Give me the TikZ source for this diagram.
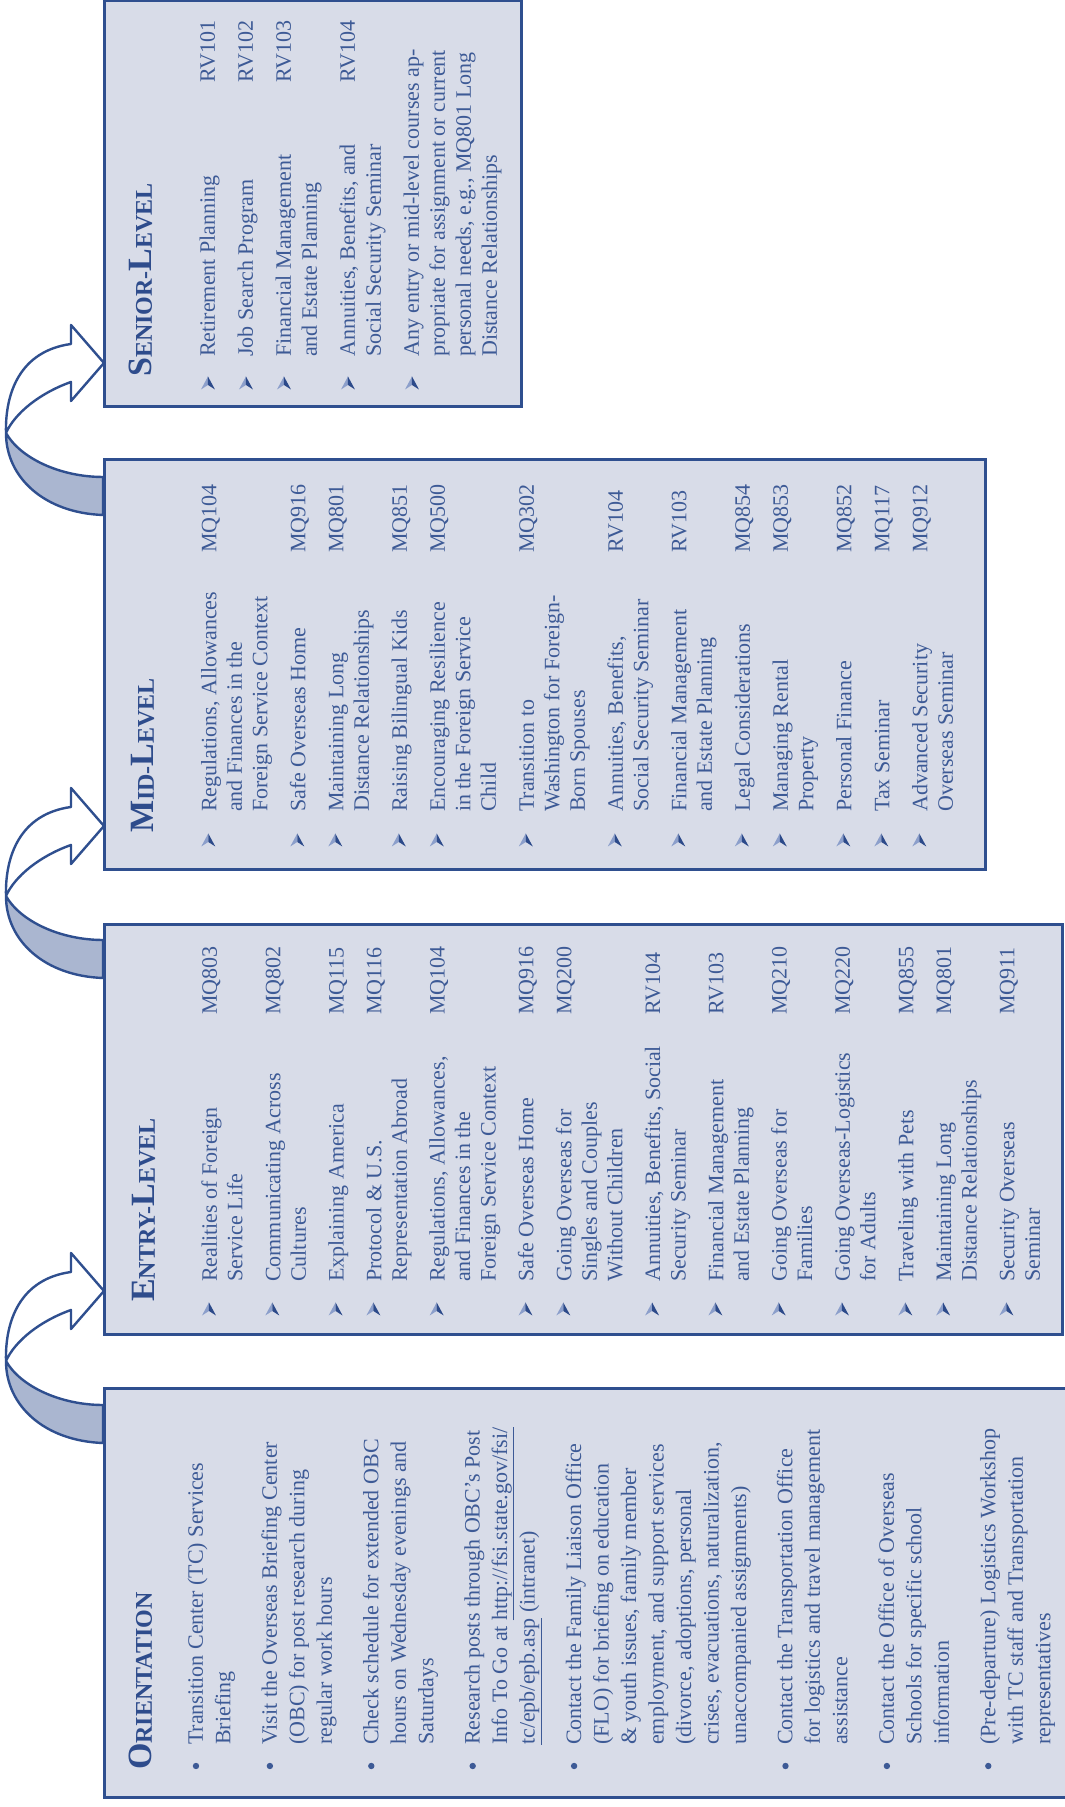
\documentclass[tikz,border=0pt]{standalone}
\usepackage{fontspec}
\setmainfont{Liberation Serif}
\definecolor{boxfill}{HTML}{D8DCE8}
\definecolor{boxline}{HTML}{2F4F8F}
\definecolor{txt}{HTML}{3D5A96}
\definecolor{ttlc}{HTML}{2E4C8C}
\definecolor{arrback}{HTML}{AAB6D0}
\definecolor{bulL}{HTML}{8C9FCB}
\definecolor{bulD}{HTML}{2C4A8A}
\newcommand\ml[2]{\vtop{\baselineskip=#1pt\lineskiplimit=-100pt\relax\halign{##\hfil\cr#2\crcr}}}
\newcommand\bigc[1]{{\fontsize{34}{34}\selectfont #1}}
\tikzset{
  box/.style={draw=boxline, fill=boxfill, line width=2.6pt, inner sep=0pt, anchor=south west},
  itm/.style={inner sep=0pt, anchor=base west, text=txt, font=\fontsize{22}{25.5}\selectfont},
  ttl/.style={inner sep=0pt, anchor=base west, text=ttlc, font=\bfseries\fontsize{24}{24}\selectfont},
  dotbul/.style={circle, fill=txt, inner sep=0pt, minimum size=6.4pt},
  abul/.pic={\fill[bulL] (6.5,0) -- (-6.5,7) -- (-2,0) -- cycle;
             \fill[bulD] (6.5,0) -- (-6.5,-7) -- (-2,0) -- cycle;},
  curvarrow/.pic={
    \fill[white] (-152,1) .. controls (-150,59) and (-115,98) .. (-70,98)
       .. controls (-30,99) and (12,84) .. (19,33) -- (38,33) -- (0,0) -- (-38,33) -- (-19,33)
       .. controls (-30,64) and (-50,89) .. (-70,98)
       .. controls (-95,84) and (-114,44) .. (-114,1) -- cycle;
    \fill[arrback] (-152,1) .. controls (-150,59) and (-115,98) .. (-70,98)
       .. controls (-95,84) and (-114,44) .. (-114,1) -- cycle;
    \draw[boxline, line width=2.4pt, line join=round] (-152,1) .. controls (-150,59) and (-115,98) .. (-70,98)
       .. controls (-30,99) and (12,84) .. (19,33) -- (38,33) -- (0,0) -- (-38,33) -- (-19,33)
       .. controls (-30,64) and (-50,89) .. (-70,98)
       .. controls (-95,84) and (-114,44) .. (-114,1) -- cycle;
  }
}
\begin{document}
\begin{tikzpicture}[x=1pt, y=1pt, rotate=90, transform shape]
\useasboundingbox (0,0) rectangle (1807,1065);
\fill[white] (0,0) rectangle (1807,1065);
\clip (0,0) rectangle (1807,1065);

% boxes
\node[box, minimum width=409, minimum height=979] (orient) at (8,-20) {};
\node[box, minimum width=410, minimum height=958] (entry) at (471,1) {};
\node[box, minimum width=410, minimum height=881] (mid) at (936,78) {};
\node[box, minimum width=406, minimum height=417] (senior) at (1399,542) {};

% curved arrows
\pic (a1) at (516,961) {curvarrow};
\pic (a2) at (981,961) {curvarrow};
\pic (a3) at (1444,961) {curvarrow};

% titles
\node[ttl] (tO) at (37,913) {\bigc{O}RIENTATION};
\node[ttl] (tE) at (505,910) {\bigc{E}NTRY-\bigc{L}EVEL};
\node[ttl] (tM) at (974,911) {\bigc{M}ID-\bigc{L}EVEL};
\node[ttl] (tS) at (1430,913) {\bigc{S}ENIOR-\bigc{L}EVEL};

% orientation items
\node[dotbul] (ob1) at (41,869) {};
\node[itm] (o1) at (62,862) {\ml{27.5}{Transition Center (TC) Services\cr Briefing}};
\node[dotbul] (ob2) at (41,795.1) {};
\node[itm] (o2) at (62,788.1) {\ml{27.5}{Visit the Overseas Briefing Center\cr (OBC) for post research during\cr regular work hours}};
\node[dotbul] (ob3) at (41,693.7) {};
\node[itm] (o3) at (62,686.7) {\ml{27.5}{Check schedule for extended OBC\cr hours on Wednesday evenings and\cr Saturdays}};
\node[dotbul] (ob4) at (41,592.3) {};
\node[itm] (o4) at (62,585.3) {\ml{27.5}{Research posts through OBC’s Post\cr Info To Go at \underline{http://fsi.state.gov/fsi/}\cr \underline{tc/epb/epb.asp} (intranet)}};
\node[dotbul] (ob5) at (41,490.9) {};
\node[itm] (o5) at (62,483.9) {\ml{27.5}{Contact the Family Liaison Office\cr (FLO) for briefing on education\cr \& youth issues, family member\cr employment, and support services\cr (divorce, adoptions, personal\cr crises, evacuations, naturalization,\cr unaccompanied assignments)}};
\node[dotbul] (ob6) at (41,279.5) {};
\node[itm] (o6) at (62,272.5) {\ml{27.5}{Contact the Transportation Office\cr for logistics and travel management\cr assistance}};
\node[dotbul] (ob7) at (41,178.1) {};
\node[itm] (o7) at (62,171.1) {\ml{27.5}{Contact the Office of Overseas\cr Schools for specific school\cr information}};
\node[dotbul] (ob8) at (41,76.7) {};
\node[itm] (o8) at (62,69.7) {\ml{27.5}{(Pre-departure) Logistics Workshop\cr with TC staff and Transportation\cr representatives}};

% entry items
\foreach \y/\t/\c [count=\i] in {
  848/{Realities of Foreign\cr Service Life}/MQ803,
  784.7/{Communicating Across\cr Cultures}/MQ802,
  721.4/{Explaining America}/MQ115,
  683.6/{Protocol \& U.S.\cr Representation Abroad}/MQ116,
  620.3/{Regulations, Allowances,\cr and Finances in the\cr Foreign Service Context}/MQ104,
  531.5/{Safe Overseas Home}/MQ916,
  493.7/{Going Overseas for\cr Singles and Couples\cr Without Children}/MQ200,
  404.9/{Annuities, Benefits, Social\cr Security Seminar}/RV104,
  341.6/{Financial Management\cr and Estate Planning}/RV103,
  278.3/{Going Overseas for\cr Families}/MQ210,
  215/{Going Overseas-Logistics\cr for Adults}/MQ220,
  151.7/{Traveling with Pets}/MQ855,
  113.9/{Maintaining Long\cr Distance Relationships}/MQ801,
  50.6/{Security Overseas\cr Seminar}/MQ911}{
  \pic (eb\i) at (498,\y+8) {abul};
  \node[itm] (e\i) at (525,\y) {\ml{25.5}{\t}};
  \node[itm] (ec\i) at (792,\y) {\c};
}

% mid items
\foreach \y/\t/\c [count=\i] in {
  848.7/{Regulations, Allowances\cr and Finances in the\cr Foreign Service Context}/MQ104,
  759.7/{Safe Overseas Home}/MQ916,
  721.7/{Maintaining Long\cr Distance Relationships}/MQ801,
  658.2/{Raising Bilingual Kids}/MQ851,
  620.2/{Encouraging Resilience\cr in the Foreign Service\cr Child}/MQ500,
  531.2/{Transition to\cr Washington for Foreign-\cr Born Spouses}/MQ302,
  442.2/{Annuities, Benefits,\cr Social Security Seminar}/RV104,
  378.7/{Financial Management\cr and Estate Planning}/RV103,
  315.2/{Legal Considerations}/MQ854,
  277.2/{Managing Rental\cr Property}/MQ853,
  213.7/{Personal Finance}/MQ852,
  175.7/{Tax Seminar}/MQ117,
  137.7/{Advanced Security\cr Overseas Seminar}/MQ912}{
  \pic (mb\i) at (967,\y+8) {abul};
  \node[itm] (m\i) at (995,\y) {\ml{25.5}{\t}};
  \node[itm] (mc\i) at (1254,\y) {\c};
}

% senior items
\foreach \y/\t/\c [count=\i] in {
  850/{Retirement Planning}/RV101,
  812/{Job Search Program}/RV102,
  774/{Financial Management\cr and Estate Planning}/RV103,
  710/{Annuities, Benefits, and\cr Social Security Seminar}/RV104}{
  \pic (sb\i) at (1424,\y+7) {abul};
  \node[itm] (s\i) at (1450,\y) {\ml{26}{\t}};
  \node[itm] (sc\i) at (1724,\y) {\c};
}
\pic (sb5) at (1424,653) {abul};
\node[itm] (s5) at (1450,646) {\ml{26}{Any entry or mid-level courses ap-\cr propriate for assignment or current\cr personal needs, e.g., MQ801 Long\cr Distance Relationships}};
\end{tikzpicture}
\end{document}
